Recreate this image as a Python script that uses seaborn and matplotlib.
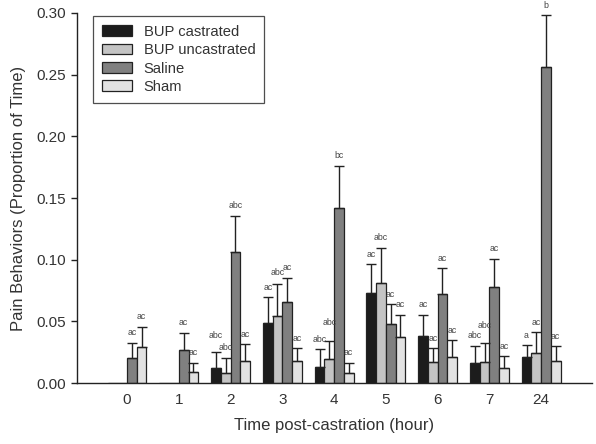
import matplotlib
matplotlib.use("Agg")
import matplotlib.pyplot as plt
import seaborn as sns
import numpy as np
import pandas as pd
from matplotlib.patches import Patch

# data
times = ["0", "1", "2", "3", "4", "5", "6", "7", "24"]
groups = ["BUP castrated", "BUP uncastrated", "Saline", "Sham"]
colors = ["#1c1c1c", "#c4c4c4", "#808080", "#e2e2e2"]

bup_castrated = [0.0, 0.0, 0.0124, 0.0484, 0.0127, 0.0727, 0.0381, 0.0165, 0.0208]
bup_uncastrated = [0.0, 0.0, 0.0079, 0.0543, 0.0192, 0.0810, 0.0173, 0.0168, 0.0246]
saline = [0.0205, 0.0268, 0.1065, 0.0660, 0.1420, 0.0476, 0.0720, 0.0780, 0.2560]
sham = [0.0295, 0.0087, 0.0181, 0.0180, 0.0084, 0.0376, 0.0208, 0.0119, 0.0181]

# upper error (SE) magnitudes
err_bup_castrated = [np.nan, np.nan, 0.0125, 0.0211, 0.0146, 0.0238, 0.0171, 0.0138, 0.0100]
err_bup_uncastrated = [np.nan, np.nan, 0.0126, 0.0257, 0.0151, 0.0285, 0.0108, 0.0154, 0.0165]
err_saline = [0.0122, 0.0142, 0.0292, 0.0194, 0.0340, 0.0162, 0.0210, 0.0226, 0.0420]
err_sham = [0.0162, 0.0078, 0.0135, 0.0101, 0.0081, 0.0176, 0.0141, 0.0100, 0.0119]

lab_bup_castrated = ["", "", "abc", "ac", "abc", "ac", "ac", "abc", "a"]
lab_bup_uncastrated = ["", "", "abc", "abc", "abc", "abc", "ac", "abc", "ac"]
lab_saline = ["ac", "ac", "abc", "ac", "bc", "ac", "ac", "ac", "b"]
lab_sham = ["ac", "ac", "ac", "ac", "ac", "ac", "ac", "ac", "ac"]

values = [bup_castrated, bup_uncastrated, saline, sham]
errors = [err_bup_castrated, err_bup_uncastrated, err_saline, err_sham]
letters = [lab_bup_castrated, lab_bup_uncastrated, lab_saline, lab_sham]

# extra lift (points) for letters that would collide with a neighbour
lift = {(0, 2): 5, (1, 7): 6, (1, 4): 6, (1, 3): 1}

df = pd.DataFrame({
    "time": np.tile(times, len(groups)),
    "group": np.repeat(groups, len(times)),
    "value": np.concatenate(values),
})

sns.set_style("ticks")
plt.rcParams["font.family"] = ["Liberation Sans", "DejaVu Sans"]
text_col = "#333333"

fig, ax = plt.subplots(figsize=(5.96, 4.44), dpi=100)
fig.subplots_adjust(left=0.129, right=0.993, top=0.971, bottom=0.137)

sns.barplot(data=df, x="time", y="value", hue="group", order=times,
            hue_order=groups, palette=dict(zip(groups, colors)),
            width=0.75, edgecolor="#222222", linewidth=0.9,
            errorbar=None, legend=False, ax=ax)

for gi, (cont, errs, labs) in enumerate(zip(ax.containers, errors, letters)):
    for ti, (bar, e, lab) in enumerate(zip(cont, errs, labs)):
        if np.isnan(e):
            continue
        xc = bar.get_x() + bar.get_width() / 2
        h = bar.get_height()
        ax.errorbar(xc, h, yerr=[[0], [e]], fmt="none", ecolor="#222222",
                    elinewidth=1.0, capsize=3.6, capthick=1.0, zorder=1)
        ax.annotate(lab, xy=(xc, h + e), xytext=(0, 4 + lift.get((gi, ti), 0)),
                    textcoords="offset points", ha="center", va="bottom",
                    fontsize=6.3, color="#444444", annotation_clip=False)

ax.set_xlim(-0.97, 8.98)
ax.set_ylim(0, 0.30)
ax.set_yticks(np.arange(0, 0.31, 0.05))
ax.set_yticklabels([f"{v:.2f}" for v in np.arange(0, 0.31, 0.05)])
ax.tick_params(axis="y", direction="out", length=4, width=1, colors="#222222",
               labelcolor=text_col, labelsize=11)
ax.tick_params(axis="x", length=0, labelcolor=text_col, labelsize=11, pad=7)
ax.set_xlabel("Time post-castration (hour)", fontsize=12, color=text_col, labelpad=8)
ax.set_ylabel("Pain Behaviors (Proportion of Time)", fontsize=12, color=text_col, labelpad=8)
sns.despine(ax=ax)
for s in ["left", "bottom"]:
    ax.spines[s].set_color("#222222")
    ax.spines[s].set_linewidth(1)

handles = [Patch(facecolor=c, edgecolor="#222222", linewidth=0.9) for c in colors]
leg = ax.legend(handles, groups, loc="upper left", bbox_to_anchor=(0.031, 0.992),
                borderaxespad=0, fontsize=10.6, frameon=True, fancybox=False,
                handlelength=2.05, handleheight=0.75, handletextpad=0.8,
                labelspacing=0.3, borderpad=0.6, labelcolor=text_col)
leg.get_frame().set_edgecolor("#222222")
leg.get_frame().set_linewidth(0.9)

fig.savefig("out.png", dpi=100)
